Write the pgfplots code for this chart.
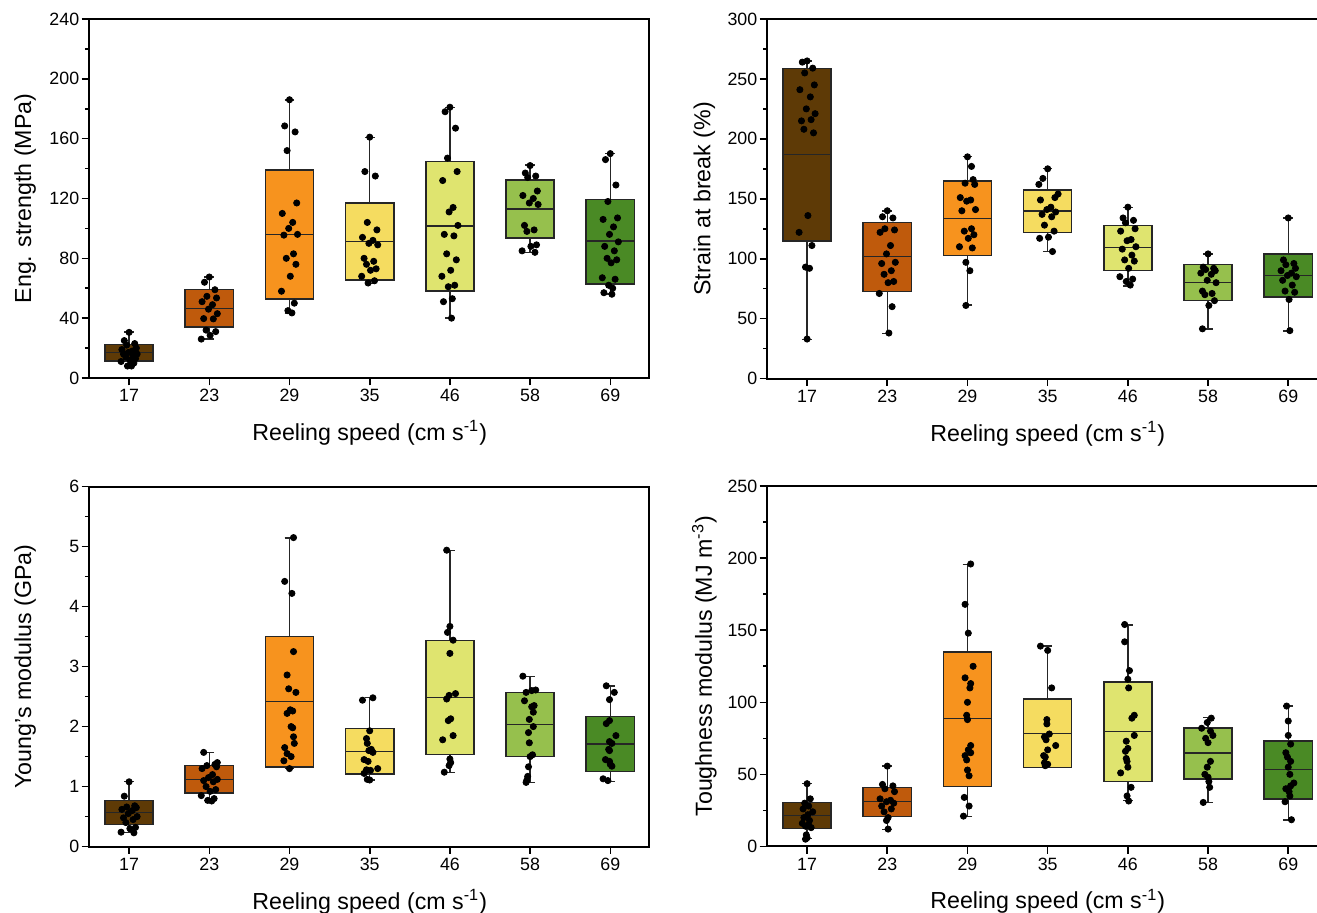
\documentclass[border=0pt]{standalone}
\usepackage{pgfplots}
\pgfplotsset{compat=1.18}
\usepgfplotslibrary{statistics}
\usepackage{fontspec}
\setmainfont{Liberation Sans}
\definecolor{c17}{HTML}{5E3A06}
\definecolor{c23}{HTML}{BF5A0C}
\definecolor{c29}{HTML}{F7931E}
\definecolor{c35}{HTML}{F5DC60}
\definecolor{c46}{HTML}{DFE46F}
\definecolor{c58}{HTML}{96C04D}
\definecolor{c69}{HTML}{4A8A25}
\newcommand{\bx}[7]{\addplot[boxplot prepared={draw position=#1, lower whisker=#2, lower quartile=#3, median=#4, upper quartile=#5, upper whisker=#6}, fill=#7, draw=black!85, line width=0.75pt] coordinates {};}
\pgfplotsset{
  panel/.style={
    scale only axis, anchor=south west,
    xmin=-0.5, ymin=0,
    xtick={0,...,6}, xticklabels={17,23,29,35,46,58,69},
    xtick pos=bottom, ytick pos=left, tick align=outside,
    minor y tick num=1,
    major tick length=3.7pt, minor tick length=2pt,
    every tick/.append style={black, line width=0.8pt},
    axis line style={black, line width=1pt},
    tick label style={font=\fontsize{8.9}{10}\selectfont},
    yticklabel style={inner sep=1pt},
    xticklabel style={inner sep=1.8pt},
    /pgf/number format/assume math mode=true,
    label style={font=\fontsize{11.6}{13}\selectfont},
    xlabel={Reeling speed (cm s\textsuperscript{-1})},
    boxplot/draw direction=y,
    boxplot/box extend=0.6, boxplot/whisker extend=0.12,
    clip=false,
  },
  leftp/.style={panel, width=279.9pt, xmax=6.48,
    xlabel style={at={(axis description cs:0.5014,0)}, anchor=center, yshift=-27.5pt},
    ylabel style={at={(axis description cs:-0.114,0.5)}, anchor=center}},
  rightp/.style={panel, width=292.7pt, xmax=6.8,
    xlabel style={at={(axis description cs:0.4795,0)}, anchor=center, yshift=-27.5pt},
    ylabel style={at={(axis description cs:-0.107,0.5)}, anchor=center}},
  dots/.style={only marks, mark=*, mark size=1.55pt, black, mark options={fill=black}},
}
\begin{document}
\begin{tikzpicture}
\useasboundingbox (0,0) rectangle (658.5pt,456.5pt);
% ---------------- Panel 1: Eng. strength
\begin{axis}[leftp, at={(44.5pt,267.5pt)}, height=179.5pt, ymax=240, ytick={0,40,...,240},
  ylabel={Eng. strength (MPa)}]
\bx{0}{8}{11.2}{17}{22.3}{30.6}{c17}
\bx{1}{25.9}{34.1}{46.6}{59.3}{67.6}{c23}
\bx{2}{43}{52.9}{95.9}{139}{185.8}{c29}
\bx{3}{63}{65.4}{91.2}{116.9}{160.8}{c35}
\bx{4}{40.2}{58.2}{101.5}{144.8}{180.7}{c46}
\bx{5}{83.9}{93.7}{113.1}{132.3}{142.3}{c58}
\bx{6}{56}{62.9}{91.7}{119.3}{150.1}{c69}
\addplot[dots] coordinates {
(0,30.5) (-0.06,25) (0.07,23) (-0.03,22) (0.09,20) (-0.09,19) (0.04,18) (-0.01,17) (0.10,16) (-0.07,16) (0.05,15) (-0.04,14) (0.08,13) (0.01,12) (-0.10,11) (0.06,10) (-0.02,8) (0.03,8)
(1,67.5) (0.94,64) (1.07,59) (0.97,54.6) (1.09,53.5) (0.91,51) (1.04,49) (0.99,46) (1.10,43) (0.93,39.7) (1.05,39.5) (0.96,32) (1.08,31) (1.01,28.5) (0.90,26)
(2,186) (1.94,168.5) (2.07,164.5) (1.97,152) (2.09,117) (1.91,110) (2.04,104) (1.99,100) (2.10,96) (1.93,95.5) (2.05,83) (1.96,80) (2.08,76) (2.01,68) (1.90,58) (2.06,50) (1.98,45) (2.03,43.5)
(3,161) (2.94,138) (3.07,135) (2.97,104) (3.09,99) (2.91,94) (3.04,92) (2.99,90) (3.10,89) (2.93,80) (3.05,78) (2.96,76) (3.08,73) (3.01,72) (2.90,68) (3.06,65) (2.98,63.5)
(4,181) (3.94,178) (4.07,167) (3.97,147) (4.09,138) (3.91,132) (4.04,114) (3.99,111) (4.10,102) (3.93,96) (4.05,95) (3.96,83) (4.08,79) (4.01,72) (3.90,68) (4.06,62) (3.98,61) (4.03,53) (3.92,51) (4.02,40)
(5,142) (4.94,137) (5.07,135) (4.97,134) (5.09,125) (4.91,122) (5.04,120) (4.99,117) (5.10,116) (4.93,102) (5.05,99) (4.96,98) (5.08,89) (5.01,88) (4.90,85) (5.06,84)
(6,150) (5.94,146) (6.07,129) (5.97,118) (6.09,107) (5.91,106) (6.04,101) (5.99,96) (6.10,91) (5.93,88) (6.05,85) (5.96,80) (6.08,79) (6.01,77) (5.90,67) (6.06,66) (5.98,62) (6.03,60) (5.92,57) (6.02,56)
};
\end{axis}
% ---------------- Panel 2: Strain at break
\begin{axis}[rightp, at={(383.5pt,267.2pt)}, height=179.8pt, ymax=300, ytick={0,50,...,300},
  ylabel={Strain at break (\%)}]
\bx{0}{32.8}{114.8}{186.8}{258.8}{265}{c17}
\bx{1}{37.8}{72.8}{101.8}{130.4}{139.8}{c23}
\bx{2}{61.2}{102.6}{133.7}{164.9}{185.2}{c29}
\bx{3}{106}{122}{139.8}{157.4}{175.4}{c35}
\bx{4}{77.3}{90.1}{109.3}{127.9}{142.9}{c46}
\bx{5}{41.4}{65.3}{80.3}{95.1}{104}{c58}
\bx{6}{39.8}{68.1}{86.2}{104}{134}{c69}
\addplot[dots] coordinates {
(0,265) (-0.06,264) (0.07,259) (-0.03,255) (0.09,245) (-0.09,241) (0.04,235) (-0.01,225) (0.10,221) (-0.07,215) (0.05,216) (-0.04,208) (0.08,205) (0.01,136) (-0.10,122) (0.06,111) (-0.02,93) (0.03,92) (0,33)
(1,140) (0.94,135) (1.07,134) (0.97,125) (1.09,124) (0.91,122) (1.04,111) (0.99,104) (1.10,97) (0.93,96) (1.05,90) (0.96,87) (1.08,81) (1.01,80) (0.90,71) (1.06,60) (1.02,38)
(2,185) (2.05,177) (2.07,166) (1.97,163) (2.09,162) (1.91,151) (2.04,149) (1.99,148) (2.10,141) (1.93,140) (2.05,125) (1.96,123) (2.08,120) (2.01,117) (1.90,110) (2.06,109) (1.98,97) (2.03,90) (1.98,61)
(3,175) (2.94,167) (2.89,162) (3.13,154) (3.09,151) (2.91,149) (3.04,143) (2.99,141) (3.10,139) (2.93,137) (3.05,135) (2.96,128) (3.08,123) (3.01,118) (2.90,117) (3.06,106)
(4,143) (3.94,134) (4.07,132) (3.97,130) (4.09,125) (3.91,123) (4.04,116) (3.99,115) (4.10,110) (3.93,108) (4.05,103) (3.96,99) (4.08,98) (4.01,92) (3.90,85) (4.06,83) (3.98,81) (4.03,78)
(5,104) (4.94,93) (5.07,92) (4.97,91) (5.09,90) (4.91,88) (5.04,87) (4.99,82) (5.10,80) (4.93,73) (5.05,71) (4.96,70) (5.08,65) (5.01,61) (4.93,41.5)
(6,134) (5.94,99) (6.07,96) (5.97,95) (6.09,92) (5.91,90) (6.04,88) (5.99,86) (6.10,85) (5.93,82) (6.05,78) (5.96,73) (6.08,72) (6.01,66) (6.02,40)
};
\end{axis}
% ---------------- Panel 3: Young's modulus
\begin{axis}[leftp, at={(44.5pt,33.2pt)}, height=180pt, ymax=6, ytick={0,...,6},
  ylabel={Young's modulus (GPa)}]
\bx{0}{0.239}{0.372}{0.572}{0.767}{1.083}{c17}
\bx{1}{0.767}{0.894}{1.122}{1.35}{1.567}{c23}
\bx{2}{1.3}{1.328}{2.417}{3.5}{5.144}{c29}
\bx{3}{1.111}{1.206}{1.589}{1.972}{2.483}{c35}
\bx{4}{1.233}{1.533}{2.483}{3.433}{4.939}{c46}
\bx{5}{1.072}{1.5}{2.039}{2.572}{2.839}{c58}
\bx{6}{1.083}{1.25}{1.706}{2.167}{2.678}{c69}
\addplot[dots] coordinates {
(0,1.08) (-0.06,0.84) (0.07,0.68) (-0.03,0.66) (0.09,0.65) (-0.09,0.62) (0.04,0.60) (-0.01,0.55) (0.10,0.50) (-0.07,0.48) (0.05,0.45) (-0.04,0.40) (0.08,0.32) (0.01,0.30) (-0.10,0.24) (0.06,0.23)
(0.93,1.57) (1.10,1.40) (1.07,1.37) (0.97,1.35) (1.09,1.33) (0.91,1.30) (1.04,1.20) (0.99,1.15) (1.10,1.12) (0.93,1.10) (1.05,1.08) (0.96,1.00) (1.08,0.95) (1.01,0.92) (0.90,0.85) (1.06,0.80) (0.98,0.77) (1.03,0.76)
(2.05,5.15) (1.94,4.42) (2.03,4.22) (2.05,3.25) (1.97,2.86) (1.99,2.63) (2.08,2.57) (2.01,2.28) (2.04,2.26) (1.97,2.22) (2.02,2.00) (2.04,1.98) (2.05,1.83) (2.06,1.72) (1.94,1.65) (1.97,1.55) (2.02,1.50) (1.93,1.43) (2.0,1.30)
(3.04,2.48) (2.91,2.44) (3.0,1.93) (2.96,1.80) (2.97,1.72) (3.02,1.62) (2.99,1.60) (3.04,1.57) (2.93,1.45) (2.98,1.42) (3.1,1.30) (2.96,1.28) (3.01,1.27) (2.93,1.22) (2.97,1.12) (3.0,1.11)
(3.96,4.94) (4.0,3.67) (3.97,3.57) (4.04,3.44) (4.0,3.22) (4.07,2.55) (3.99,2.52) (3.96,2.46) (4.01,2.13) (3.98,2.10) (4.04,1.85) (3.91,1.78) (4.0,1.46) (4.01,1.40) (3.99,1.35) (3.93,1.24)
(4.91,2.84) (5.07,2.61) (5.02,2.60) (4.95,2.57) (4.93,2.43) (5.05,2.35) (5.02,2.33) (5.04,2.24) (4.99,2.12) (5.04,2.00) (4.98,1.90) (4.99,1.73) (5.03,1.53) (5.0,1.50) (4.98,1.33) (4.97,1.17) (4.96,1.11) (4.95,1.07)
(5.95,2.68) (6.05,2.57) (5.99,2.45) (5.99,2.10) (5.95,2.05) (6.07,1.85) (5.99,1.75) (6.02,1.72) (5.98,1.62) (5.99,1.60) (5.94,1.45) (5.99,1.42) (6.0,1.37) (6.02,1.34) (5.91,1.13) (5.97,1.10)
};
\end{axis}
% ---------------- Panel 4: Toughness modulus
\begin{axis}[rightp, at={(383.5pt,33.3pt)}, height=180.1pt, ymax=250, ytick={0,50,...,250},
  ylabel={Toughness modulus (MJ m\textsuperscript{-3})}]
\bx{0}{5.6}{12.3}{21.3}{30.3}{43.5}{c17}
\bx{1}{11.8}{20.8}{31}{40.9}{55.7}{c23}
\bx{2}{20.8}{41.4}{88.6}{135}{195.7}{c29}
\bx{3}{54.6}{54.6}{78.4}{102.2}{139}{c35}
\bx{4}{31.7}{45.1}{79.6}{114}{153.8}{c46}
\bx{5}{30.5}{46.9}{64.8}{82.3}{89.3}{c58}
\bx{6}{18.3}{32.8}{53.2}{73.1}{97.4}{c69}
\addplot[dots] coordinates {
(0,43.5) (0.04,33) (-0.03,30) (0.02,28) (-0.05,26) (0.07,24) (0.01,22) (-0.04,20) (0.03,18) (-0.06,16) (0.02,15) (-0.02,14) (0.05,13) (-0.01,8) (0.0,6) (-0.02,5)
(1,55.7) (0.94,43) (1.07,42) (0.97,40) (1.09,38) (0.91,33) (1.04,32) (0.99,31) (1.08,30) (0.93,28) (1.05,26) (0.96,24) (1.01,20) (0.99,18) (1.01,12)
(2.04,196) (1.97,168) (2.01,148) (2.07,125) (1.97,117) (2.04,113) (2.03,110) (2.0,100) (1.99,91) (2.0,88) (2.04,70) (2.01,67) (2.04,65) (1.97,63) (1.99,60) (2.0,53) (2.02,49) (1.96,34) (2.02,28) (1.95,21)
(2.91,139) (3.0,136) (3.05,110) (2.99,88) (2.99,85) (3.02,78) (2.96,76) (2.98,74) (3.1,70) (3.0,67) (2.95,63) (2.97,62) (2.96,58) (3.0,57) (2.97,56)
(3.96,154) (3.96,142) (4.02,122) (4.0,116) (4.01,110) (4.08,91) (4.05,89) (4.08,77) (3.98,73) (4.0,68) (3.97,66) (3.98,61) (3.99,59) (4.0,55) (3.91,51) (4.04,41) (3.99,35) (4.01,31.5)
(5.04,89) (4.99,86) (4.92,82) (5.03,80) (5.06,77) (4.97,75) (5.0,72) (5.03,59) (4.99,55) (4.96,50) (5.0,48) (5.01,45) (5.02,41) (4.94,30.5)
(5.98,97.4) (6.0,87) (6.0,77) (6.03,71) (5.97,65) (5.99,62) (6.03,59) (6.0,55) (6.02,50) (6.07,44) (6.03,42) (5.97,40) (6.01,38) (6.02,35) (5.96,31) (6.04,18.5)
};
\end{axis}
\end{tikzpicture}
\end{document}
